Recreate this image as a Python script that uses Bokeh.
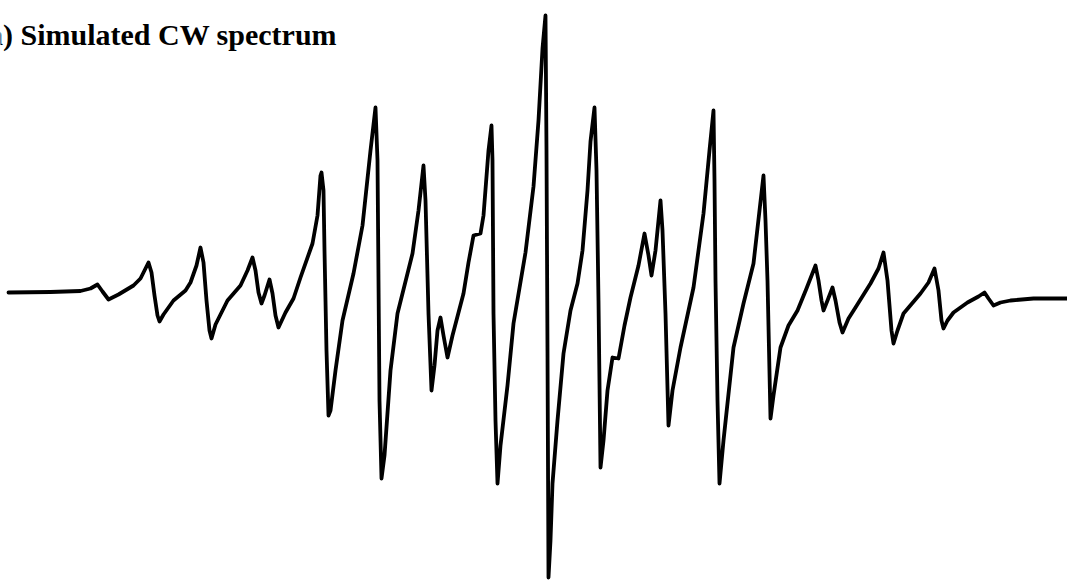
from bokeh.plotting import figure
from bokeh.models import Range1d
from bokeh.core.properties import value
from bokeh.embed import file_html
from bokeh.resources import INLINE

field = [8, 50, 80, 90, 97, 102, 108, 118, 133, 140, 145, 148, 151, 154, 157, 159, 163, 173, 185, 190,
         196, 200, 203, 206, 209, 211, 215, 227, 240, 247, 252, 255, 258, 261, 264, 269, 272, 275, 278, 285,
         293, 300, 312, 317, 320, 321, 323, 324, 326, 328, 330, 335, 342, 353, 362, 370, 375, 377, 378, 379,
         381, 384, 390, 397, 412, 418, 423, 425, 428, 431, 434, 437, 440, 443, 447, 452, 463, 468, 473, 480,
         483, 488, 491, 492, 493, 495, 497, 500, 507, 513, 525, 533, 538, 542, 545, 546, 547, 548, 550, 552,
         557, 563, 570, 577, 582, 587, 590, 594, 596, 598, 600, 603, 607, 612, 618, 624, 630, 638, 644, 648,
         651, 655, 660, 662, 665, 668, 672, 680, 693, 703, 709, 713, 714, 715, 717, 719, 723, 733, 743, 753,
         759, 763, 765, 767, 770, 773, 780, 788, 797, 806, 815, 818, 821, 823, 827, 832, 835, 839, 842, 848,
         855, 870, 878, 883, 887, 891, 893, 897, 903, 920, 928, 934, 938, 941, 943, 947, 953, 967, 978, 984,
         988, 993, 1000, 1010, 1033, 1067]
trace_px = [292, 291.5, 290.5, 288, 284, 291, 299, 294, 285, 278, 268, 262, 272, 295, 315, 321, 314, 300, 290, 282,
            265, 247, 262, 300, 330, 338, 324, 300, 285, 270, 257, 270, 292, 303, 295, 279, 293, 315, 327, 312,
            298, 277, 243, 215, 175, 172, 190, 250, 350, 415, 410, 370, 320, 273, 225, 150, 107, 160, 280, 400,
            478, 455, 370, 313, 253, 210, 165, 200, 313, 390, 365, 330, 317, 335, 357, 335, 293, 262, 235, 233,
            215, 150, 125, 160, 313, 420, 483, 445, 385, 323, 252, 186, 120, 48, 15, 150, 350, 577, 540, 483,
            420, 353, 310, 283, 250, 190, 141, 107, 170, 300, 467, 440, 390, 357, 358, 325, 297, 265, 233, 255,
            275, 250, 200, 230, 313, 425, 390, 347, 287, 213, 150, 110, 180, 280, 400, 483, 440, 347, 303, 263,
            210, 175, 220, 280, 418, 395, 347, 325, 310, 288, 265, 280, 300, 310, 300, 287, 300, 322, 332, 318,
            307, 283, 268, 252, 280, 330, 343, 330, 313, 293, 282, 268, 290, 320, 328, 320, 312, 302, 296, 292,
            298, 305, 302, 300, 298, 298]
BASE = 292
signal = [BASE - v for v in trace_px]

title_text = ["(a) Simulated CW spectrum"]

W, H = 1067, 581
p = figure(width=W, height=H, output_backend="svg", toolbar_location=None,
           x_range=Range1d(0, W), y_range=Range1d(BASE - H, BASE),
           min_border=0, min_border_left=0, min_border_right=0,
           min_border_top=0, min_border_bottom=0)
p.xaxis.visible = False
p.yaxis.visible = False
p.grid.visible = False
p.outline_line_color = None
p.background_fill_color = "white"
p.border_fill_color = "white"

p.line(field, signal, line_color="black", line_width=3.8, line_join="round", line_cap="round")

p.text(x=[-22.5], y=[BASE - 34], text=title_text, text_font=value("Liberation Serif"),
       text_font_style="bold", text_font_size="30px", text_color="black",
       text_baseline="alphabetic", text_align="left")

open("out.html", "w").write(file_html(p, INLINE))
